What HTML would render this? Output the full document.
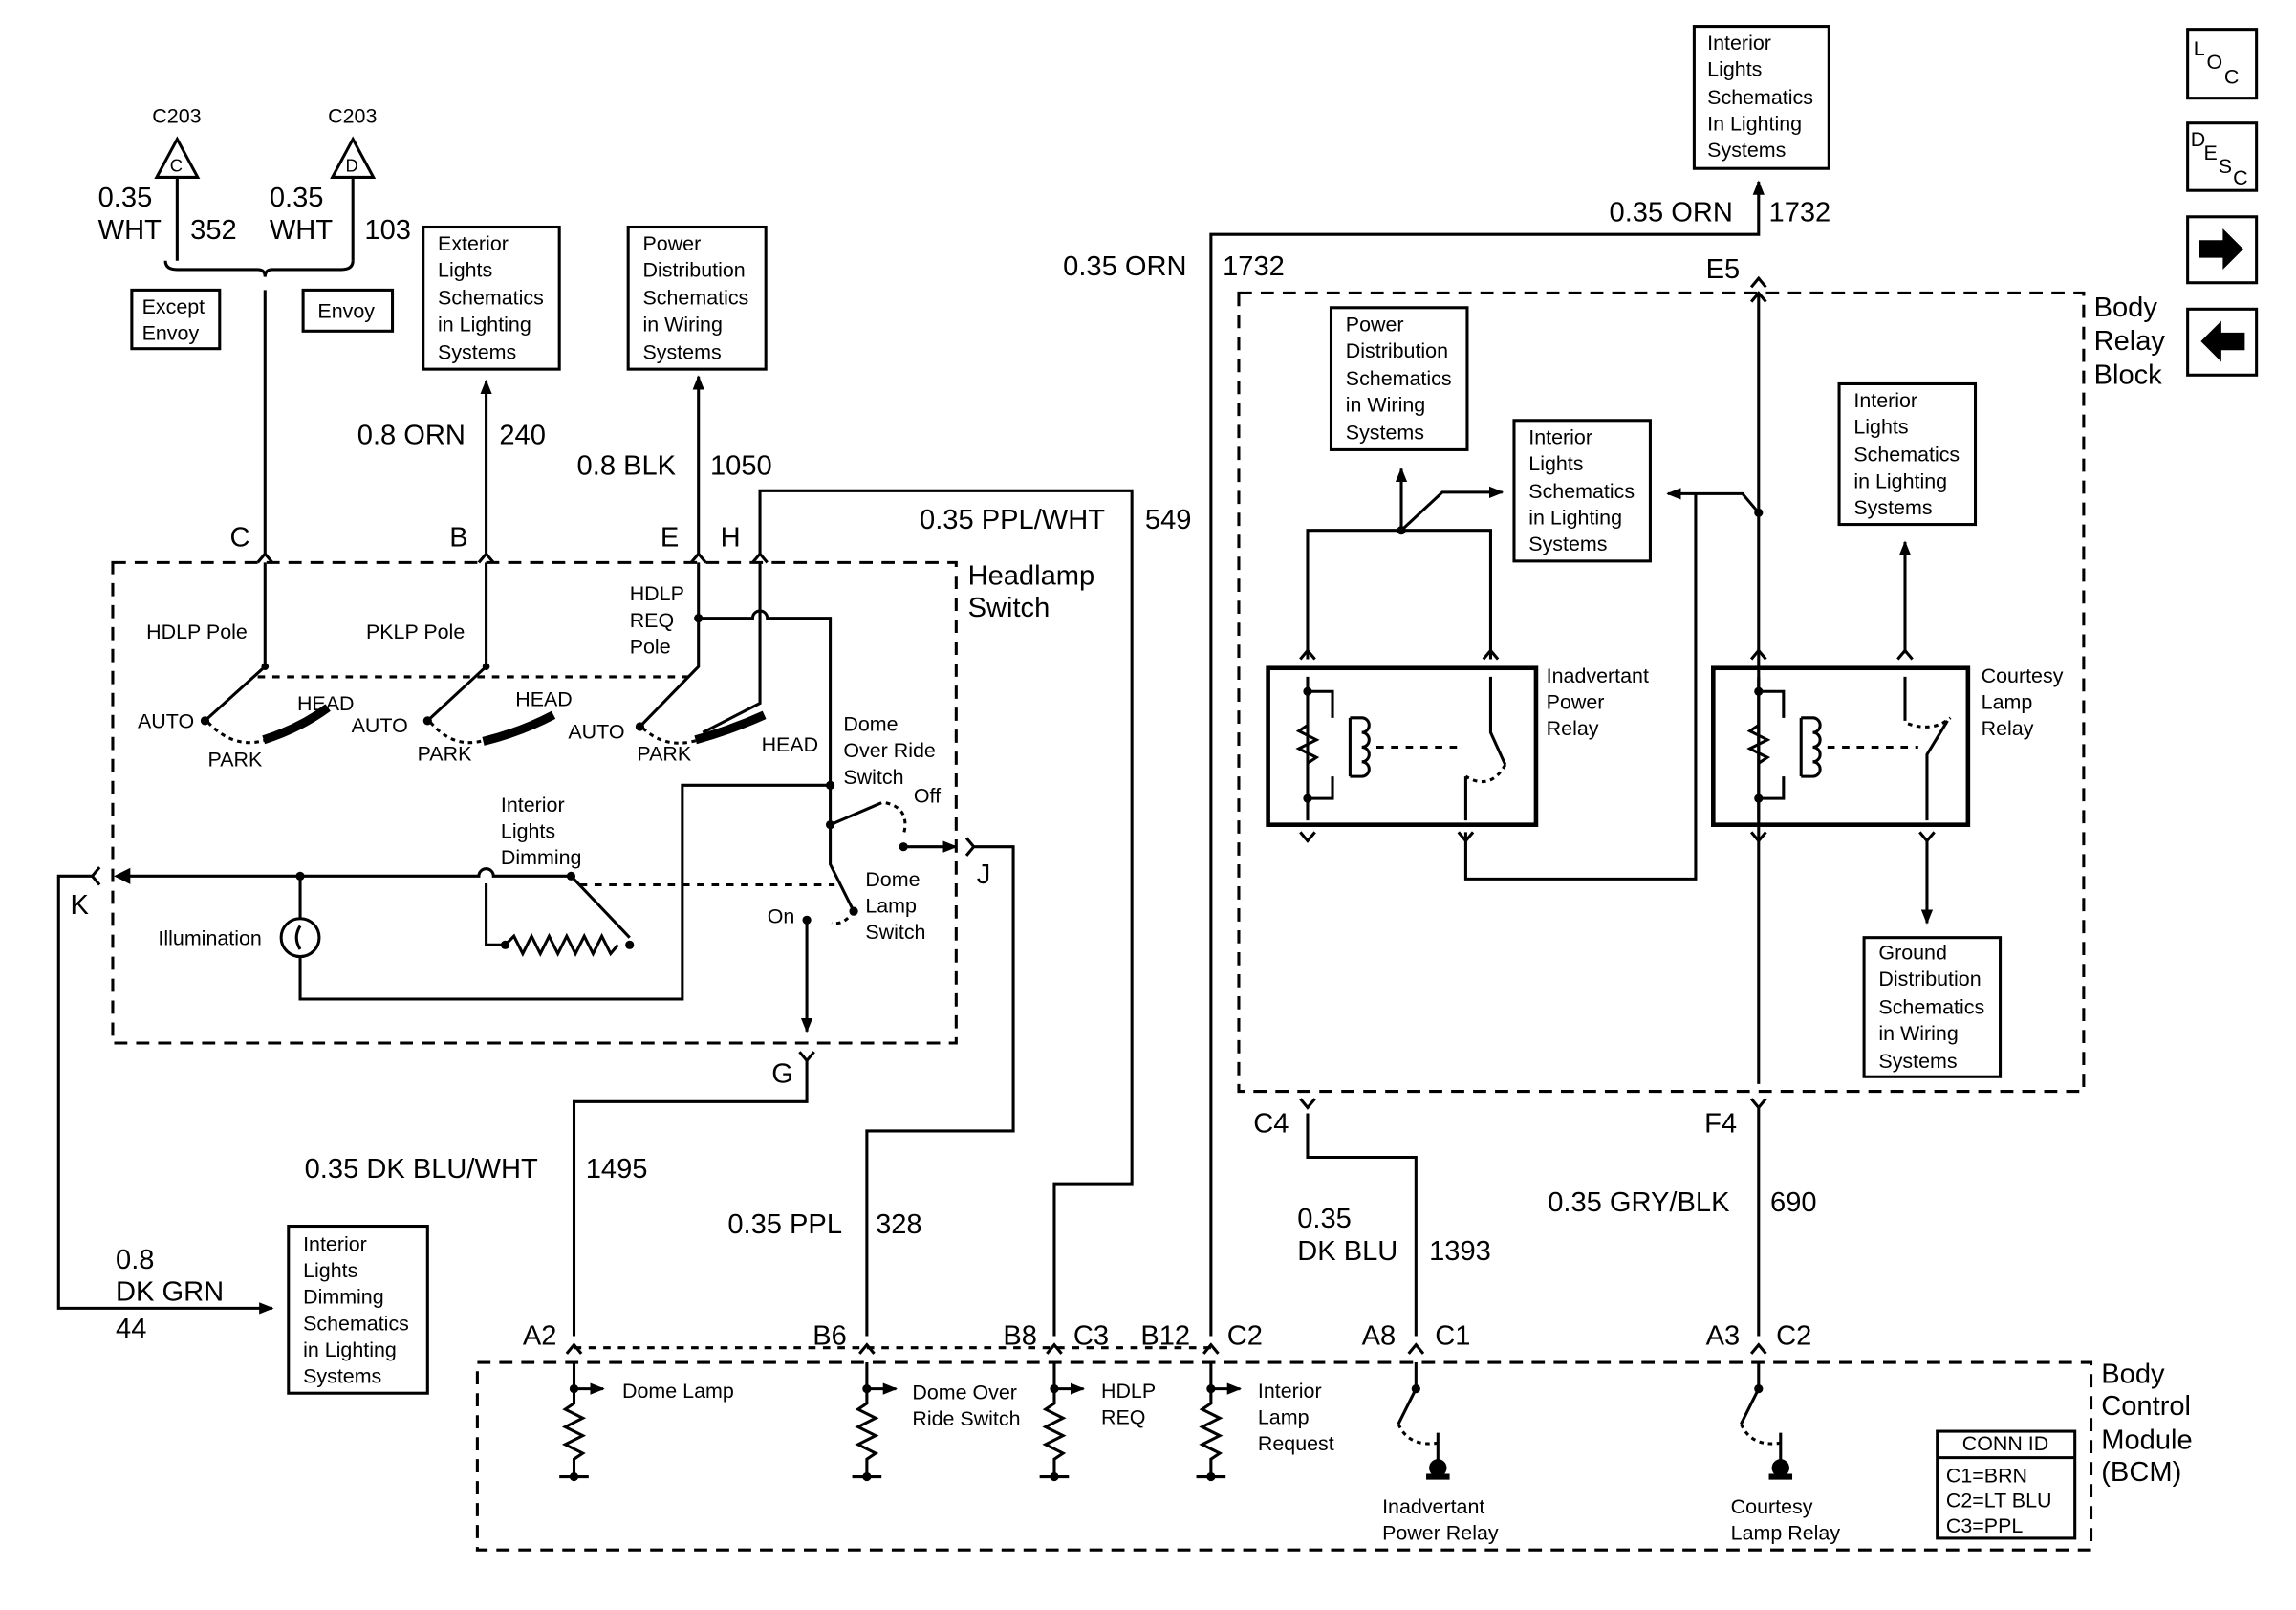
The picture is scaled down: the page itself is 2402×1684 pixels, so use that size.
<!DOCTYPE html>
<html><head><meta charset="utf-8"><style>
html,body{margin:0;padding:0;background:#fff;}
svg{display:block;}
text{font-family:"Liberation Sans",Arial,sans-serif;fill:#000;}
.s{font-size:14px;}
.m{font-size:19px;}
</style></head><body>
<svg width="2402" height="1684" viewBox="0 0 1568 1099" preserveAspectRatio="none" xmlns="http://www.w3.org/2000/svg">
<defs>
<marker id="ar" markerWidth="10" markerHeight="10" refX="9" refY="5" orient="auto" markerUnits="userSpaceOnUse"><path d="M0,1 L10,5 L0,9 z" fill="#000"/></marker>
</defs>
<g fill="none" stroke="#000" stroke-width="2">
<rect x="77" y="384" width="576" height="328" stroke-dasharray="9,6"/>
<rect x="846" y="200" width="577" height="545" stroke-dasharray="9,6"/>
<rect x="326" y="930" width="1102" height="128" stroke-dasharray="9,6"/>
<rect x="90" y="198" width="60" height="40"/>
<rect x="207" y="198" width="61" height="28"/>
<rect x="289" y="155" width="93" height="97"/>
<rect x="429" y="155" width="94" height="97"/>
<rect x="1157" y="18" width="92" height="97"/>
<rect x="909" y="210" width="93" height="97"/>
<rect x="1034" y="287" width="93" height="96"/>
<rect x="1256" y="262" width="93" height="96"/>
<rect x="1273" y="640" width="93" height="95"/>
<rect x="197" y="837" width="95" height="114"/>
<rect x="866" y="456" width="183" height="107" stroke-width="3"/>
<rect x="1170" y="456" width="174" height="107" stroke-width="3"/>
<rect x="1323" y="977" width="94" height="73"/>
<rect x="1494" y="20" width="47" height="47"/>
<rect x="1494" y="84" width="47" height="46"/>
<rect x="1494" y="148" width="47" height="45"/>
<rect x="1494" y="211" width="47" height="45"/>
<path d="M121,95 L107,121 L135,121 Z"/>
<path d="M241,95 L227,121 L255,121 Z"/>
<path d="M121,121 V178 M241,121 V178"/>
<path d="M113,178 q0,6 8,6 H176 q5,0 5,5 q0,-5 5,-5 H233 q8,0 8,-6"/>
<path d="M181,198 V378"/>
<path d="M176,384 l5,-6 l5,6 M327,384 l5,-6 l5,6 M472,384 l5,-6 l5,6 M514,384 l5,-6 l5,6"/>
<path d="M332,378 V260" marker-end="url(#ar)"/>
<path d="M477,378 V257" marker-end="url(#ar)"/>
<path d="M519,378 V335 H773 V808 H720 V912"/>
<path d="M181,384 V455 L140,492"/>
<path d="M332,384 V455 L292,492"/>
<path d="M477,384 V455 L437,496"/>
<path d="M477,422 H514 a5,5 0 0 1 10,0 H567 V563"/>
<path d="M519,384 V480 L480,500"/>
<path d="M176,462 H470" stroke-dasharray="5,5"/>
<path d="M142,493 Q160,512 182,505 M294,493 Q310,512 332,505 M439,497 Q455,512 477,505" stroke-dasharray="3,3"/>
<path d="M180,505 Q205,497 224,483 M330,506 Q355,500 378,488 M475,505 Q500,498 522,488" stroke-width="6"/>
<path d="M80,598 H327 a5,5 0 0 1 10,0 H390 L430,640"/>
<path d="M80,598 l8,-4 v8 z" fill="#000"/>
<path d="M332,603 V645 H345 l6,-6 l6,12 l6,-12 l6,12 l6,-12 l6,12 l6,-12 l6,12 l6,-12 l6,12 l6,-12 l6,12 l5,-6"/>
<path d="M396,604 H570" stroke-dasharray="5,5"/>
<path d="M205,598 V627 M205,653 V682 H466 V536 H567"/>
<circle cx="205" cy="640" r="13"/>
<path d="M205,632 q-5,8 0,16"/>
<path d="M567,563 L602,548 M567,563 V590 L583,622"/>
<path d="M605,548 Q622,552 617,570 M583,622 Q576,632 568,630" stroke-dasharray="3,3"/>
<path d="M617,578 H653" marker-end="url(#ar)"/>
<path d="M660,572 l5,6 l-5,6 M665,578 H692 V772 H592 V912"/>
<path d="M551,628 V704" marker-end="url(#ar)"/>
<path d="M546,718 l5,6 l5,-6 M551,724 V752 H392 V912"/>
<path d="M68,592 l-5,6 l5,6 M63,598 H40 V893 H186" marker-end="url(#ar)"/>
<path d="M827,912 V160 H1201 V124" marker-end="url(#ar)"/>
<path d="M1196,196 l5,-6 l5,6 M1196,206 l5,-6 l5,6 M1201,200 V740"/>
<path d="M893,450 V362 H1018 V450"/>
<path d="M957,362 V320" marker-end="url(#ar)"/>
<path d="M957,362 L985,336 H1026" marker-end="url(#ar)"/>
<path d="M1201,350 L1190,337 H1139" marker-end="url(#ar)"/>
<path d="M1158,337 V600 H1001 V568"/>
<path d="M888,450 l5,-6 l5,6 M1013,450 l5,-6 l5,6 M1196,450 l5,-6 l5,6 M1296,450 l5,-6 l5,6"/>
<path d="M888,568 l5,6 l5,-6 M996,568 l5,6 l5,-6 M1196,568 l5,6 l5,-6 M1311,568 l5,6 l5,-6"/>
<path d="M1301,446 V370" marker-end="url(#ar)"/>
<path d="M1316,574 V630" marker-end="url(#ar)"/>
<path d="M893,462 V560 M893,472 H910 V490 M910,530 V545 H893"/>
<path d="M893,495 l-6,4 l12,6 l-12,6 l12,6 l-6,4"/>
<path d="M922,490 h8 a5,5 0 0 1 0,10 a5,5 0 0 1 0,10 a5,5 0 0 1 0,10 a5,5 0 0 1 0,10 h-8 M922,490 V530"/>
<path d="M940,510 H1000" stroke-dasharray="5,5"/>
<path d="M1018,462 V500 L1028,522 M1001,530 V560"/>
<path d="M1028,522 Q1018,540 1001,530" stroke-dasharray="3,3"/>
<path d="M1201,462 V560 M1201,472 H1218 V490 M1218,530 V545 H1201"/>
<path d="M1201,495 l-6,4 l12,6 l-12,6 l12,6 l-6,4"/>
<path d="M1230,490 h8 a5,5 0 0 1 0,10 a5,5 0 0 1 0,10 a5,5 0 0 1 0,10 a5,5 0 0 1 0,10 h-8 M1230,490 V530"/>
<path d="M1248,510 H1310" stroke-dasharray="5,5"/>
<path d="M1301,462 V492 M1316,560 V515 L1330,492"/>
<path d="M1303,494 Q1320,500 1332,490" stroke-dasharray="3,3"/>
<path d="M893,760 V790 H967 V912"/>
<path d="M888,750 l5,6 l5,-6 M1196,750 l5,6 l5,-6 M1201,756 V912"/>
<path d="M387,924 l5,-6 l5,6 M587,924 l5,-6 l5,6 M715,924 l5,-6 l5,6 M822,924 l5,-6 l5,6 M962,924 l5,-6 l5,6 M1196,924 l5,-6 l5,6"/>
<path d="M392,920 H827" stroke-dasharray="5,5"/>
<path d="M392,930 V958 l-6,4 l12,6 l-12,6 l12,6 l-12,6 l12,6 l-6,4 V1008 M382,1008 H402"/>
<path d="M592,930 V958 l-6,4 l12,6 l-12,6 l12,6 l-12,6 l12,6 l-6,4 V1008 M582,1008 H602"/>
<path d="M720,930 V958 l-6,4 l12,6 l-12,6 l12,6 l-12,6 l12,6 l-6,4 V1008 M710,1008 H730"/>
<path d="M827,930 V958 l-6,4 l12,6 l-12,6 l12,6 l-12,6 l12,6 l-6,4 V1008 M817,1008 H837"/>
<path d="M392,948 H412" marker-end="url(#ar)"/>
<path d="M592,948 H612" marker-end="url(#ar)"/>
<path d="M720,948 H740" marker-end="url(#ar)"/>
<path d="M827,948 H847" marker-end="url(#ar)"/>
<path d="M967,930 V948 L955,972 M982,978 V998"/>
<path d="M955,972 Q962,988 982,985" stroke-dasharray="3,3"/>
<path d="M1201,930 V948 L1189,972 M1216,978 V998"/>
<path d="M1189,972 Q1196,988 1216,985" stroke-dasharray="3,3"/>
<path d="M1323,995 H1417"/>
</g>
<g fill="#000">
<circle cx="982" cy="1002" r="6"/><rect x="974" y="1006" width="16" height="4"/>
<circle cx="1216" cy="1002" r="6"/><rect x="1208" y="1006" width="16" height="4"/>
<circle cx="181" cy="455" r="2.5"/><circle cx="332" cy="455" r="2.5"/><circle cx="477" cy="422" r="3"/>
<circle cx="140" cy="492" r="3"/><circle cx="292" cy="492" r="3"/><circle cx="437" cy="496" r="3"/>
<circle cx="205" cy="598" r="3"/><circle cx="390" cy="598" r="3"/><circle cx="567" cy="536" r="3"/><circle cx="567" cy="563" r="3"/>
<circle cx="551" cy="628" r="3"/><circle cx="617" cy="578" r="3"/><circle cx="583" cy="622" r="3"/>
<circle cx="345" cy="645" r="3"/><circle cx="430" cy="645" r="3"/>
<circle cx="957" cy="362" r="3"/><circle cx="1201" cy="350" r="3"/>
<circle cx="893" cy="472" r="3"/><circle cx="893" cy="545" r="3"/><circle cx="1201" cy="472" r="3"/><circle cx="1201" cy="545" r="3"/>
<circle cx="392" cy="948" r="3"/><circle cx="592" cy="948" r="3"/><circle cx="720" cy="948" r="3"/><circle cx="827" cy="948" r="3"/>
<circle cx="392" cy="1008" r="3"/><circle cx="592" cy="1008" r="3"/><circle cx="720" cy="1008" r="3"/><circle cx="827" cy="1008" r="3"/>
<circle cx="967" cy="948" r="3"/><circle cx="1201" cy="948" r="3"/>
<path d="M1502,164 h16 v-8 l14,14 l-14,14 v-8 h-16 z"/>
<path d="M1533,227 h-16 v-8 l-14,14 l14,14 v-8 h16 z"/>
</g>
<g class="s">
<text x="104" y="84">C203</text><text x="224" y="84">C203</text>
<text x="116" y="117" font-size="12">C</text><text x="236" y="117" font-size="12">D</text>
<text x="97" y="214">Except</text><text x="97" y="232">Envoy</text>
<text x="217" y="217">Envoy</text>
<text x="299" y="171">Exterior</text><text x="299" y="189">Lights</text><text x="299" y="208">Schematics</text><text x="299" y="226">in Lighting</text><text x="299" y="245">Systems</text>
<text x="439" y="171">Power</text><text x="439" y="189">Distribution</text><text x="439" y="208">Schematics</text><text x="439" y="226">in Wiring</text><text x="439" y="245">Systems</text>
<text x="1166" y="34">Interior</text><text x="1166" y="52">Lights</text><text x="1166" y="71">Schematics</text><text x="1166" y="89">In Lighting</text><text x="1166" y="107">Systems</text>
<text x="919" y="226">Power</text><text x="919" y="244">Distribution</text><text x="919" y="263">Schematics</text><text x="919" y="281">in Wiring</text><text x="919" y="300">Systems</text>
<text x="1044" y="303">Interior</text><text x="1044" y="321">Lights</text><text x="1044" y="340">Schematics</text><text x="1044" y="358">in Lighting</text><text x="1044" y="376">Systems</text>
<text x="1266" y="278">Interior</text><text x="1266" y="296">Lights</text><text x="1266" y="315">Schematics</text><text x="1266" y="333">in Lighting</text><text x="1266" y="351">Systems</text>
<text x="1283" y="655">Ground</text><text x="1283" y="673">Distribution</text><text x="1283" y="692">Schematics</text><text x="1283" y="710">in Wiring</text><text x="1283" y="729">Systems</text>
<text x="207" y="854">Interior</text><text x="207" y="872">Lights</text><text x="207" y="890">Dimming</text><text x="207" y="908">Schematics</text><text x="207" y="926">in Lighting</text><text x="207" y="944">Systems</text>
<text x="100" y="436">HDLP Pole</text><text x="250" y="436">PKLP Pole</text>
<text x="430" y="410">HDLP</text><text x="430" y="428">REQ</text><text x="430" y="446">Pole</text>
<text x="94" y="497">AUTO</text><text x="240" y="500">AUTO</text><text x="388" y="504">AUTO</text>
<text x="203" y="485">HEAD</text><text x="352" y="482">HEAD</text><text x="520" y="513">HEAD</text>
<text x="142" y="523">PARK</text><text x="285" y="519">PARK</text><text x="435" y="519">PARK</text>
<text x="576" y="499">Dome</text><text x="576" y="517">Over Ride</text><text x="576" y="535">Switch</text>
<text x="624" y="548">Off</text>
<text x="342" y="554">Interior</text><text x="342" y="572">Lights</text><text x="342" y="590">Dimming</text>
<text x="591" y="605">Dome</text><text x="591" y="623">Lamp</text><text x="591" y="641">Switch</text>
<text x="524" y="630">On</text>
<text x="108" y="645">Illumination</text>
<text x="1056" y="466">Inadvertant</text><text x="1056" y="484">Power</text><text x="1056" y="502">Relay</text>
<text x="1353" y="466">Courtesy</text><text x="1353" y="484">Lamp</text><text x="1353" y="502">Relay</text>
<text x="425" y="954">Dome Lamp</text>
<text x="623" y="955">Dome Over</text><text x="623" y="973">Ride Switch</text>
<text x="752" y="954">HDLP</text><text x="752" y="972">REQ</text>
<text x="859" y="954">Interior</text><text x="859" y="972">Lamp</text><text x="859" y="990">Request</text>
<text x="944" y="1033">Inadvertant</text><text x="944" y="1051">Power Relay</text>
<text x="1182" y="1033">Courtesy</text><text x="1182" y="1051">Lamp Relay</text>
<text x="1340" y="990">CONN ID</text>
<text x="1329" y="1012">C1=BRN</text><text x="1329" y="1029">C2=LT BLU</text><text x="1329" y="1046">C3=PPL</text>
<text x="1498" y="38">L</text><text x="1507" y="47">O</text><text x="1519" y="57">C</text>
<text x="1496" y="100">D</text><text x="1505" y="109">E</text><text x="1515" y="118">S</text><text x="1525" y="126">C</text>
</g>
<g class="m">
<text x="67" y="141">0.35</text><text x="67" y="163">WHT</text><text x="130" y="163">352</text>
<text x="184" y="141">0.35</text><text x="184" y="163">WHT</text><text x="249" y="163">103</text>
<text x="244" y="303">0.8 ORN</text><text x="341" y="303">240</text>
<text x="394" y="324">0.8 BLK</text><text x="485" y="324">1050</text>
<text x="628" y="361">0.35 PPL/WHT</text><text x="782" y="361">549</text>
<text x="157" y="373">C</text><text x="307" y="373">B</text><text x="451" y="373">E</text><text x="492" y="373">H</text>
<text x="661" y="399">Headlamp</text><text x="661" y="421">Switch</text>
<text x="48" y="624">K</text><text x="667" y="603">J</text><text x="527" y="739">G</text>
<text x="208" y="804">0.35 DK BLU/WHT</text><text x="400" y="804">1495</text>
<text x="497" y="842">0.35 PPL</text><text x="598" y="842">328</text>
<text x="79" y="866">0.8</text><text x="79" y="888">DK GRN</text><text x="79" y="913">44</text>
<text x="1099" y="151">0.35 ORN</text><text x="1208" y="151">1732</text>
<text x="726" y="188">0.35 ORN</text><text x="835" y="188">1732</text>
<text x="1165" y="190">E5</text>
<text x="1430" y="216">Body</text><text x="1430" y="239">Relay</text><text x="1430" y="262">Block</text>
<text x="856" y="773">C4</text><text x="1164" y="773">F4</text>
<text x="886" y="838">0.35</text><text x="886" y="860">DK BLU</text><text x="976" y="860">1393</text>
<text x="1057" y="827">0.35 GRY/BLK</text><text x="1209" y="827">690</text>
<text x="357" y="918">A2</text><text x="555" y="918">B6</text><text x="685" y="918">B8</text><text x="733" y="918">C3</text>
<text x="779" y="918">B12</text><text x="838" y="918">C2</text><text x="930" y="918">A8</text><text x="980" y="918">C1</text>
<text x="1165" y="918">A3</text><text x="1213" y="918">C2</text>
<text x="1435" y="944">Body</text><text x="1435" y="966">Control</text><text x="1435" y="989">Module</text><text x="1435" y="1011">(BCM)</text>
</g>
</svg>
</body></html>
